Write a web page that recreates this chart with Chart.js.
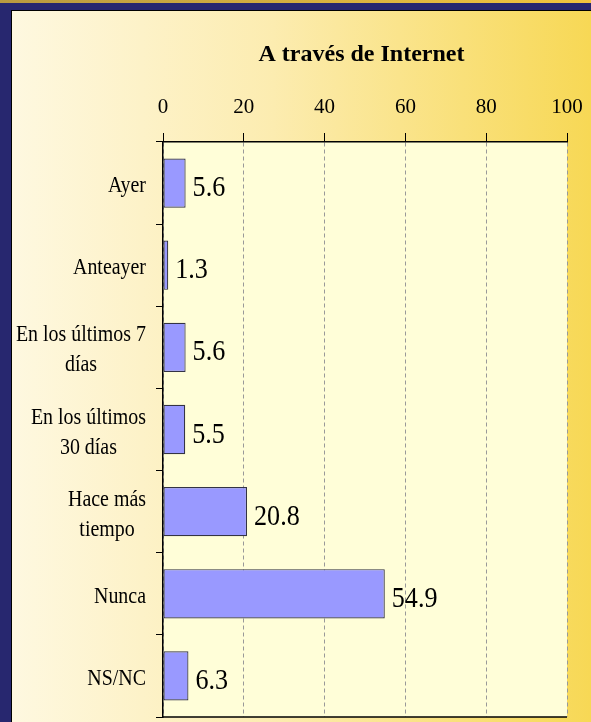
<!DOCTYPE html>
<html>
<head>
<meta charset="utf-8">
<script src="https://cdn.jsdelivr.net/npm/chart.js@4.4.1/dist/chart.umd.min.js"></script>
<style>
  html, body { margin: 0; padding: 0; background: #27276f; }
</style>
</head>
<body>
<canvas id="c" width="591" height="722"></canvas>
<script>
// data
const categories = [['Ayer'], ['Anteayer'], ['En los últimos 7', 'días'], ['En los últimos', '30 días'], ['Hace más', 'tiempo'], ['Nunca'], ['NS/NC']];
const values = [5.6, 1.3, 5.6, 5.5, 20.8, 54.9, 6.3];
const xTicks = [0, 20, 40, 60, 80, 100];
const chartTitle = 'A través de Internet';

const SERIF = '"Liberation Serif", "Times New Roman", serif';

// the source picture is squeezed sideways, so text is drawn narrower than tall
function narrowText(ctx, text, x, y, sx) {
    ctx.save();
    ctx.translate(x, y);
    ctx.scale(sx, 1);
    ctx.fillText(text, 0, 0);
    ctx.restore();
}

// frame, gradient background and plot fill
const backdrop = {
    id: 'backdrop',
    beforeDraw(chart) {
        const { ctx, width, height, chartArea: a } = chart;
        ctx.save();
        ctx.fillStyle = '#27276f';
        ctx.fillRect(0, 0, width, height);
        const streak = ctx.createLinearGradient(0, 0, width, 0);
        streak.addColorStop(0, '#b89a40');
        streak.addColorStop(1, '#f2c53e');
        ctx.fillStyle = streak;
        ctx.fillRect(0, 0, width, 3);
        ctx.fillStyle = '#000';
        ctx.fillRect(11, 10, width - 11, height - 10);
        const g = ctx.createLinearGradient(12, 0, width, 0);
        g.addColorStop(0, '#fef8e0');
        g.addColorStop(0.45, '#fcecb0');
        g.addColorStop(1, '#f7d855');
        ctx.fillStyle = g;
        ctx.fillRect(12, 11, width - 12, height - 11);
        ctx.fillStyle = '#fffed8';
        ctx.fillRect(a.left, a.top, a.right - a.left, a.bottom - a.top);
        ctx.restore();
    }
};

// value labels next to bars
const valueLabels = {
    id: 'valueLabels',
    afterDatasetsDraw(chart) {
        const ctx = chart.ctx;
        ctx.save();
        ctx.font = '29px ' + SERIF;
        ctx.fillStyle = '#000';
        ctx.textAlign = 'left';
        ctx.textBaseline = 'alphabetic';
        chart.getDatasetMeta(0).data.forEach((bar, i) => {
            narrowText(ctx, values[i].toFixed(1), bar.x + 7, bar.y + 13, 0.9);
        });
        ctx.restore();
    }
};

// category labels, lines centred within each block, block right aligned
const categoryLabels = {
    id: 'categoryLabels',
    afterDraw(chart) {
        const { ctx, chartArea: a } = chart;
        const yScale = chart.scales.y;
        const sx = 0.83;
        ctx.save();
        ctx.font = '24px ' + SERIF;
        ctx.fillStyle = '#000';
        ctx.textAlign = 'center';
        ctx.textBaseline = 'alphabetic';
        const right = a.left - 17;
        categories.forEach((lines, i) => {
            const cy = yScale.getPixelForValue(i);
            const w = Math.max(...lines.map(l => ctx.measureText(l).width)) * sx;
            const cx = right - w / 2;
            lines.forEach((l, j) => {
                narrowText(ctx, l, cx, cy + 9 + (j - (lines.length - 1) / 2) * 30, sx);
            });
        });
        // bottom edge of the plot
        ctx.strokeStyle = '#000';
        ctx.lineWidth = 1.5;
        ctx.beginPath();
        ctx.moveTo(a.left, a.bottom);
        ctx.lineTo(a.right, a.bottom);
        ctx.stroke();
        ctx.restore();
    }
};

new Chart(document.getElementById('c'), {
    type: 'bar',
    data: {
        labels: categories,
        datasets: [{
            data: values,
            backgroundColor: '#9999ff',
            borderColor: '#333344',
            borderWidth: 1.2,
            borderSkipped: false,
            barPercentage: 0.6,
            categoryPercentage: 1
        }]
    },
    options: {
        indexAxis: 'y',
        responsive: false,
        animation: false,
        layout: { padding: { left: 156, right: 24, top: 12, bottom: 5 } },
        plugins: {
            legend: { display: false },
            tooltip: { enabled: false },
            title: {
                display: true,
                text: chartTitle,
                color: '#000',
                font: { family: SERIF, size: 24, weight: 'bold' },
                padding: { top: 28, bottom: 13 }
            }
        },
        scales: {
            x: {
                position: 'top',
                min: 0,
                max: 100,
                afterBuildTicks: s => { s.ticks = xTicks.map(v => ({ value: v })); },
                afterFit: s => { s.paddingLeft = 0; s.paddingRight = 0; },
                ticks: {
                    color: '#000',
                    font: { family: SERIF, size: 21 },
                    padding: 13
                },
                grid: {
                    color: '#999',
                    tickColor: '#000',
                    tickLength: 9,
                    tickBorderDash: []
                },
                border: { display: true, color: '#000', width: 1.5, dash: [4, 3] }
            },
            y: {
                ticks: { display: false },
                grid: {
                    offset: true,
                    drawOnChartArea: false,
                    color: '#000',
                    tickColor: '#000',
                    tickLength: 7
                },
                border: { display: true, color: '#000', width: 1.5 }
            }
        }
    },
    plugins: [backdrop, valueLabels, categoryLabels]
});
</script>
</body>
</html>
